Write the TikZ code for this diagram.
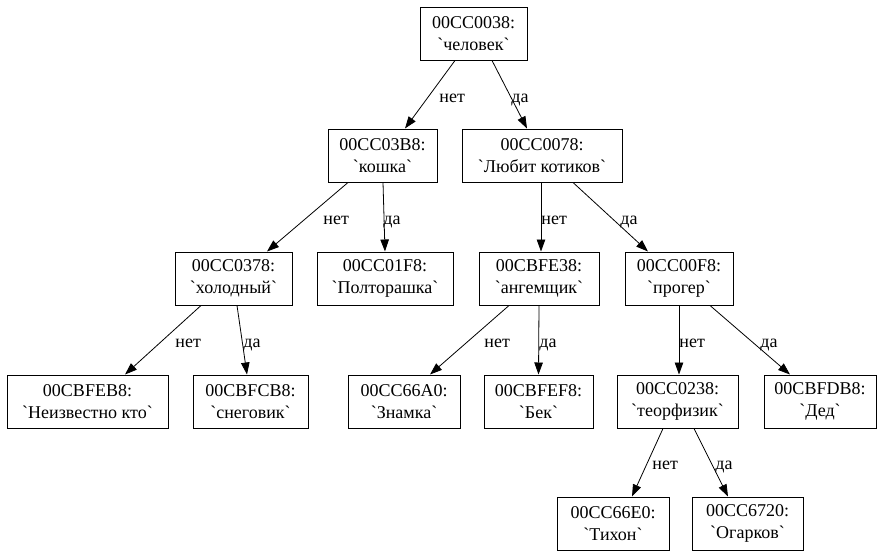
\documentclass[tikz,border=0pt]{standalone}
\usepackage{fontspec}
\setmainfont{Liberation Serif}[Ligatures=TeXOff]
\usetikzlibrary{arrows.meta, positioning}

\begin{document}
\begin{tikzpicture}[
    x=1pt, y=-1pt,
    font=\fontsize{18}{22}\selectfont,
    question/.style={rectangle, draw=black, line width=1pt, minimum height=53pt, inner xsep=4pt, align=center},
    answer/.style={anchor=base west, inner sep=0pt},
    arrow/.style={line width=0.8pt, -{Triangle[length=12pt, width=8.5pt]}}
]
\useasboundingbox (0,0) rectangle (885,557);

% level 0
\node (chelovek) [question, minimum width=107pt] at (473.5,33.5) {00CC0038:\\`человек`};
% level 1
\node (koshka) [question, minimum width=109pt] at (382.5,155.5) {00CC03B8:\\`кошка`};
\node (kotiki) [question, minimum width=160pt] at (542,155.5) {00CC0078:\\`Любит котиков`};
% level 2
\node (holodny) [question, minimum width=117pt] at (233.5,278.5) {00CC0378:\\`холодный`};
\node (poltorashka) [question, minimum width=136pt] at (385,278.5) {00CC01F8:\\`Полторашка`};
\node (angem) [question, minimum width=120pt] at (539,278.5) {00CBFE38:\\`ангемщик`};
\node (proger) [question, minimum width=108pt] at (679,278.5) {00CC00F8:\\`прогер`};
% level 3
\node (unknown) [question, minimum width=161pt] at (87.5,401.5) {00CBFEB8:\\`Неизвестно кто`};
\node (snegovik) [question, minimum width=115pt] at (250.5,401.5) {00CBFCB8:\\`снеговик`};
\node (znamka) [question, minimum width=112pt] at (404,401.5) {00CC66A0:\\`Знамка`};
\node (bek) [question, minimum width=109pt] at (538.5,401.5) {00CBFEF8:\\`Бек`};
\node (teorfiz) [question, minimum width=121pt] at (677.5,401.5) {00CC0238:\\`теорфизик`};
\node (ded) [question, minimum width=112pt] at (820,401.5) {00CBFDB8:\\`Дед`};
% level 4
\node (tihon) [question, minimum width=112pt] at (613,523.5) {00CC66E0:\\`Тихон`};
\node (ogarkov) [question, minimum width=111pt] at (747.5,523.5) {00CC6720:\\`Огарков`};

\draw [arrow] ([xshift=-18.5pt]chelovek.south) -- ([xshift=22.5pt]koshka.north) node [answer] at (439,102) {нет};
\draw [arrow] ([xshift=18.5pt]chelovek.south) -- ([xshift=-15pt]kotiki.north) node [answer] at (511,102) {да};
\draw [arrow] ([xshift=-34.5pt]koshka.south) -- ([xshift=33.5pt]holodny.north) node [answer] at (323,224) {нет};
\draw [arrow] ([xshift=0.5pt]koshka.south) -- (poltorashka.north) node [answer] at (383,224) {да};
\draw [arrow] ([xshift=-1pt]kotiki.south) -- ([xshift=2pt]angem.north) node [answer] at (541,224) {нет};
\draw [arrow] ([xshift=31pt]kotiki.south) -- ([xshift=-31pt]proger.north) node [answer] at (620,224) {да};
\draw [arrow] ([xshift=-32.5pt]holodny.south) -- ([xshift=37.5pt]unknown.north) node [answer] at (175,347) {нет};
\draw [arrow] ([xshift=3.5pt]holodny.south) -- ([xshift=-3.5pt]snegovik.north) node [answer] at (243,347) {да};
\draw [arrow] ([xshift=-30pt]angem.south) -- ([xshift=26pt]znamka.north) node [answer] at (484,347) {нет};
\draw [arrow] (angem.south) -- (bek.north) node [answer] at (539,347) {да};
\draw [arrow] (proger.south) -- ([xshift=1.5pt]teorfiz.north) node [answer] at (679,347) {нет};
\draw [arrow] ([xshift=31pt]proger.south) -- ([xshift=-30pt]ded.north) node [answer] at (760,347) {да};
\draw [arrow] ([xshift=-14.5pt]teorfiz.south) -- ([xshift=19pt]tihon.north) node [answer] at (652,469) {нет};
\draw [arrow] ([xshift=16.5pt]teorfiz.south) -- ([xshift=-19.5pt]ogarkov.north) node [answer] at (715,469) {да};

\end{tikzpicture}
\end{document}
